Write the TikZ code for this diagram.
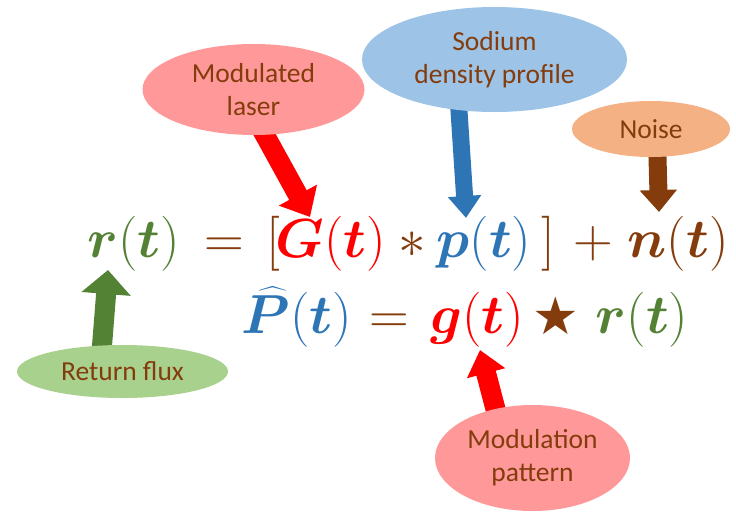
\RequirePackage{fix-cm}
\documentclass[tikz,border=0pt]{standalone}
\usepackage{exscale}
\usepackage{bm}
\usepackage{fontspec}
\newfontfamily\calib{Carlito}
\newfontfamily\djv{DejaVu Sans}
\usetikzlibrary{shapes.geometric,arrows.meta,backgrounds}
\definecolor{cgreen}{HTML}{548235}
\definecolor{cbrown}{HTML}{843C0C}
\definecolor{cred}{HTML}{FF0000}
\definecolor{cblue}{HTML}{2E75B6}
\definecolor{fpink}{HTML}{FF9999}
\definecolor{fblue}{HTML}{9DC3E6}
\definecolor{forange}{HTML}{F4B183}
\definecolor{fgreen}{HTML}{A9D18E}
\newcommand{\widehatP}{\rlap{\kern4pt\scalebox{0.75}[1]{$\widehat{\phantom{\bm{P}}\mkern8mu}$}}}
\tikzset{
  bubble/.style={ellipse, inner sep=0pt, align=center, text=cbrown,
    font=\calib\fontsize{27.5}{33}\selectfont},
  eq/.style={anchor=base, inner sep=0pt, font=\fontsize{55}{60}\selectfont},
  blockarrow/.style={line cap=butt, shorten <=-8pt}
}
\begin{document}
\begin{tikzpicture}[x=1pt,y=-1pt]
\useasboundingbox (0,0) rectangle (736,512);
% bubbles
\node[bubble, fill=fpink, minimum width=222pt, minimum height=91pt] (laser) at (253.5,89.5) {Modulated\\laser};
\node[bubble, fill=fblue, minimum width=265pt, minimum height=105pt] (sod) at (494.5,59.5) {Sodium\\density profile};
\node[bubble, fill=forange, minimum width=158pt, minimum height=56pt] (noise) at (651,129) {Noise};
\node[bubble, fill=fgreen, minimum width=211pt, minimum height=53pt] (ret) at (122.5,371.5) {Return flux};
\node[bubble, fill=fpink, minimum width=195pt, minimum height=106pt] (mp) at (532.5,458) {Modulation\\pattern};
% equation line 1
\node[eq, text=cgreen] (r1) at (134,257) {$\bm{r}(\bm{t})$};
\node[eq, text=cbrown] (eq1) at (224,257) {$=$};
\node[eq, text=cbrown] (lb) at (273,257) {$[$};
\node[eq, text=cred] (G) at (331,257) {$\bm{G}(\bm{t})$};
\node[eq, text=cbrown] (ast) at (412,257) {$\ast$};
\node[eq, text=cblue] (p) at (484,257) {$\bm{p}(\bm{t})$};
\node[eq, text=cbrown] (rb) at (548,257) {$]$};
\node[eq, text=cbrown] (plus) at (593,257) {$+$};
\node[eq, text=cbrown] (n) at (678,257) {$\bm{n}(\bm{t})$};
% equation line 2
\node[eq, text=cblue] (P) at (297,333) {$\widehatP\bm{P}(\bm{t})$};
\node[eq, text=cbrown] (eq2) at (389,333) {$=$};
\node[eq, text=cred] (g) at (477,333) {$\bm{g}(\bm{t})$};
\node[eq, text=cbrown, font=\djv\fontsize{52}{56}\selectfont] (star) at (556,334) {★};
\node[eq, text=cgreen] (r2) at (642,333) {$\bm{r}(\bm{t})$};
% arrow tips
\coordinate (tipG) at (310,217);
\coordinate (tipp) at (466,218);
\coordinate (tipn) at (659,212);
\coordinate (tipr) at (108,270);
\coordinate (tipg) at (480,350);
\begin{scope}[on background layer]
\draw[blockarrow, cred, line width=20pt, -{Triangle[length=25pt,width=42pt]}] (laser.-76) -- (tipG);
\draw[blockarrow, cblue, line width=17pt, -{Triangle[length=22pt,width=32pt]}] (sod.-125) -- (tipp);
\draw[blockarrow, cbrown, line width=18pt, -{Triangle[length=22pt,width=36pt]}] (noise.-77) -- (tipn);
\draw[blockarrow, cgreen, line width=20pt, -{Triangle[length=24pt,width=48pt]}] (ret.128) -- (tipr);
\draw[blockarrow, cred, line width=20pt, -{Triangle[length=24pt,width=38pt]}] (mp.127) -- (tipg);
\end{scope}
\end{tikzpicture}
\end{document}
